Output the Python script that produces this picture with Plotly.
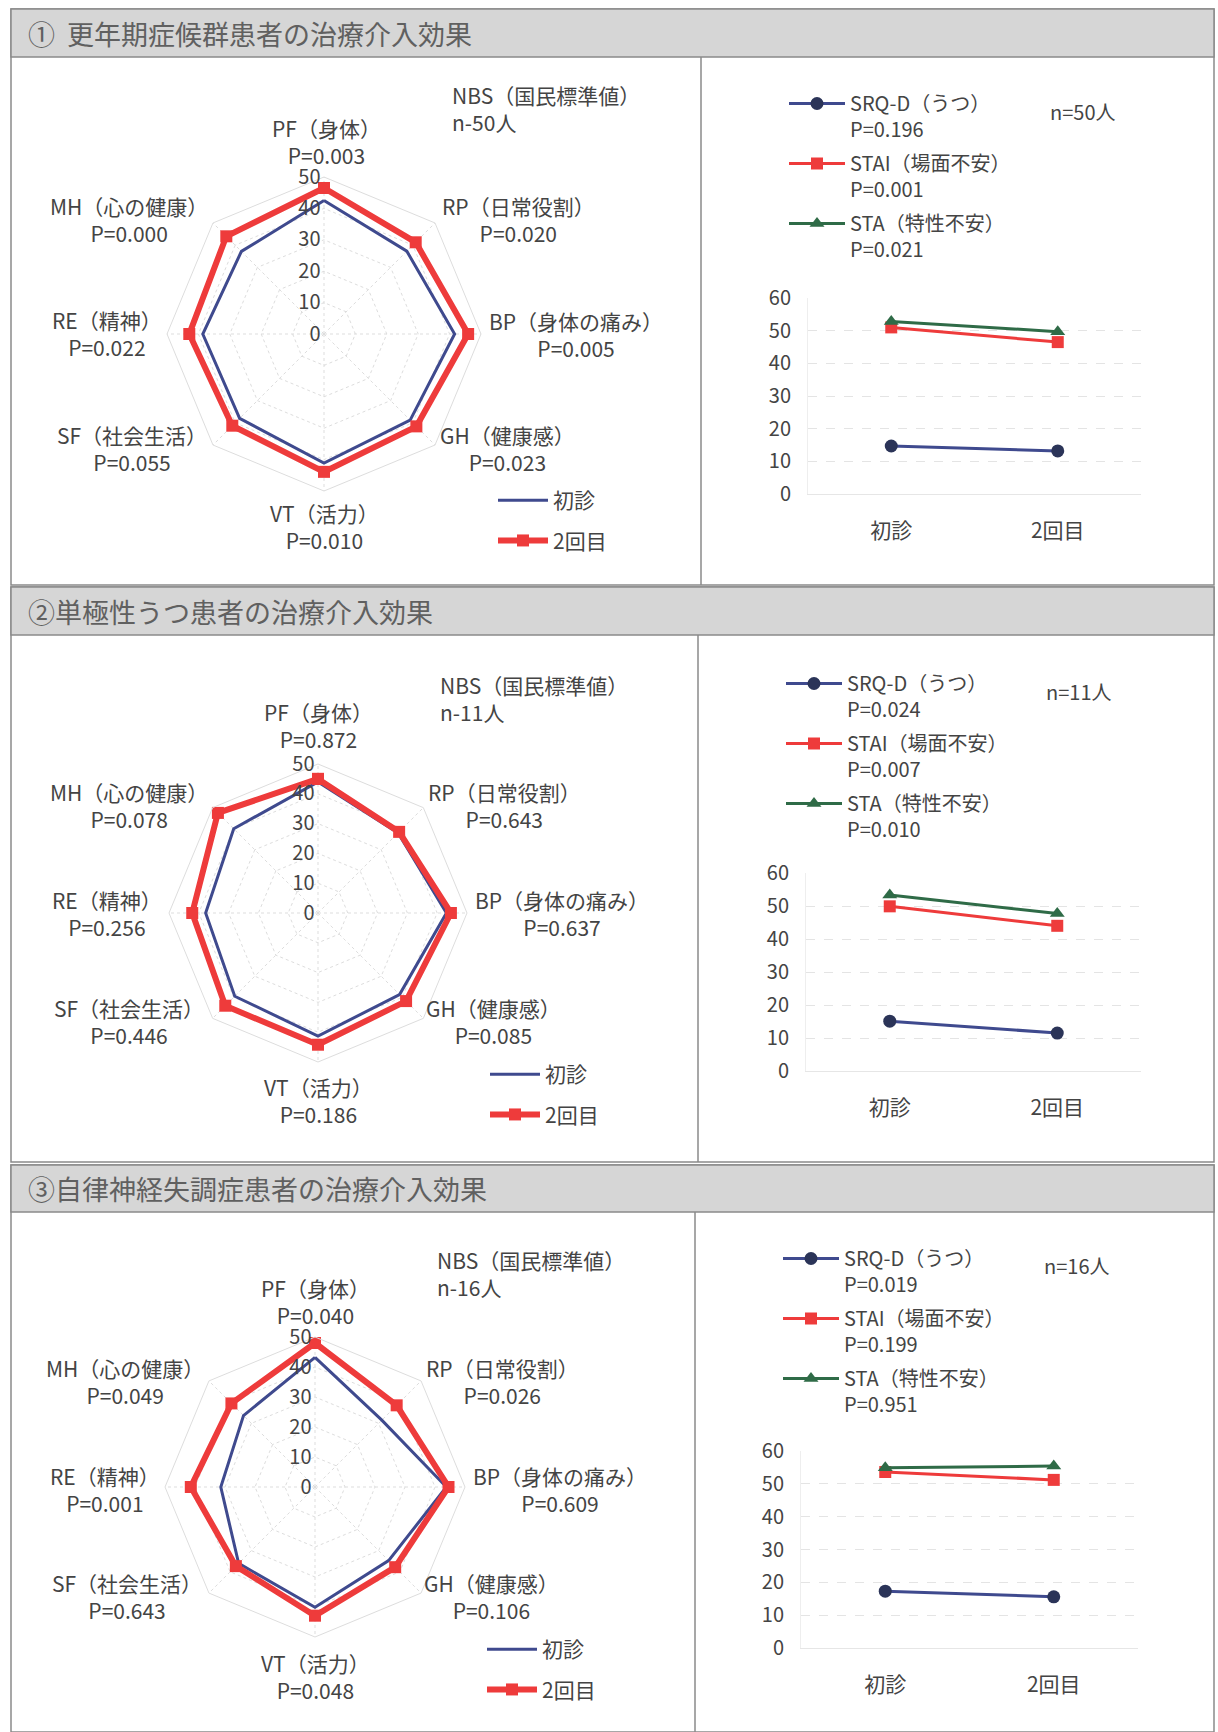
import plotly.graph_objects as go

W, H = 1218, 1732
FONT = "Noto Sans CJK JP"

# ---------------- data ----------------
radar_categories = ["PF（身体）", "RP（日常役割）", "BP（身体の痛み）", "GH（健康感）",
                    "VT（活力）", "SF（社会生活）", "RE（精神）", "MH（心の健康）"]
radar_series = ["初診", "2回目"]

p1_first = [42.5, 37.3, 41.6, 38.8, 41.1, 38.0, 38.6, 37.2]
p1_second = [46.5, 41.3, 45.9, 41.6, 43.9, 41.3, 42.9, 44.0]
p1_pvalues = ["0.003", "0.020", "0.005", "0.023", "0.010", "0.055", "0.022", "0.000"]

p2_first = [44.0, 38.0, 43.1, 38.7, 41.3, 39.5, 37.7, 40.0]
p2_second = [45.0, 38.5, 44.6, 41.8, 44.2, 44.0, 42.2, 47.5]
p2_pvalues = ["0.872", "0.643", "0.637", "0.085", "0.186", "0.446", "0.256", "0.078"]

p3_first = [43.2, 31.5, 43.8, 34.7, 40.1, 36.0, 31.4, 33.7]
p3_second = [48.0, 38.5, 44.5, 37.8, 42.9, 37.3, 41.4, 39.4]
p3_pvalues = ["0.040", "0.026", "0.609", "0.106", "0.048", "0.643", "0.001", "0.049"]

visits = ["初診", "2回目"]
scale_names = ["SRQ-D（うつ）", "STAI（場面不安）", "STA（特性不安）"]

p1_srq = [14.7, 13.2]
p1_stai = [51.0, 46.5]
p1_sta = [52.8, 49.7]
p1_scale_p = ["0.196", "0.001", "0.021"]

p2_srq = [15.1, 11.5]
p2_stai = [49.9, 44.0]
p2_sta = [53.3, 47.7]
p2_scale_p = ["0.024", "0.007", "0.010"]

p3_srq = [17.3, 15.6]
p3_stai = [53.6, 51.2]
p3_sta = [54.9, 55.4]
p3_scale_p = ["0.019", "0.199", "0.951"]

panel_titles = ["①  更年期症候群患者の治療介入効果",
                "②単極性うつ患者の治療介入効果",
                "③自律神経失調症患者の治療介入効果"]
group_sizes = [50, 11, 16]
radar_yticks = [0, 10, 20, 30, 40, 50]
line_yticks = [0, 10, 20, 30, 40, 50, 60]

# ---------------- styling / layout constants ----------------
BLUE = "#3f4a8e"
RED = "#ee3b3b"
NAVY = "#2b3458"
GREEN = "#2f6b47"
TXT = "#444444"


def px(x):
    return x / W


def py(y):
    return 1 - y / H


fig = go.Figure()

panels = [
    dict(top=9, band=57, bottom=585, div=701,
         radar=dict(cx=324, cy=334, r=157),
         lab=[(326, 141), (518, 219), (576, 335), (507, 449), (324, 527), (132, 449), (107, 333), (129, 219)],
         nbs=(450, 109), rleg=(493, 480),
         line=dict(x0=808, x1=1141, y0=494, y1=298), lleg=(784, 84), nn=(1083, 112),
         first=p1_first, second=p1_second, pv=p1_pvalues,
         srq=p1_srq, stai=p1_stai, sta=p1_sta, sp=p1_scale_p),
    dict(top=587, band=635, bottom=1162, div=698,
         radar=dict(cx=318, cy=913, r=149),
         lab=[(318, 726), (504, 805), (562, 913), (493, 1021), (318, 1100), (129, 1021), (107, 913), (129, 805)],
         nbs=(438, 698), rleg=(485, 1054),
         line=dict(x0=806, x1=1141, y0=1071, y1=873), lleg=(781, 664), nn=(1079, 691),
         first=p2_first, second=p2_second, pv=p2_pvalues,
         srq=p2_srq, stai=p2_stai, sta=p2_sta, sp=p2_scale_p),
    dict(top=1165, band=1212, bottom=1732, div=695,
         radar=dict(cx=315, cy=1487, r=150),
         lab=[(315, 1301), (502, 1381), (560, 1489), (491, 1596), (315, 1676), (127, 1596), (105, 1489), (125, 1381)],
         nbs=(435, 1273), rleg=(482, 1629),
         line=dict(x0=801, x1=1138, y0=1648, y1=1451), lleg=(778, 1239), nn=(1077, 1265),
         first=p3_first, second=p3_second, pv=p3_pvalues,
         srq=p3_srq, stai=p3_stai, sta=p3_sta, sp=p3_scale_p),
]

shapes = []
annotations = []
layout_extra = {}

for i, P in enumerate(panels):
    k = i + 1
    # frame, title band, divider
    shapes.append(dict(type="rect", xref="paper", yref="paper",
                       x0=px(11), x1=px(1214), y0=py(P["bottom"]), y1=py(P["top"]),
                       line=dict(color="#8a8a8a", width=1.5), fillcolor="white", layer="below"))
    shapes.append(dict(type="rect", xref="paper", yref="paper",
                       x0=px(11), x1=px(1214), y0=py(P["band"]), y1=py(P["top"]),
                       line=dict(color="#8a8a8a", width=1.5), fillcolor="#d6d6d6", layer="below"))
    shapes.append(dict(type="line", xref="paper", yref="paper",
                       x0=px(P["div"]), x1=px(P["div"]), y0=py(P["bottom"]), y1=py(P["band"]),
                       line=dict(color="#8a8a8a", width=1.5), layer="below"))
    annotations.append(dict(text=panel_titles[i], xref="paper", yref="paper",
                            x=px(26), y=py((P["top"] + P["band"]) / 2), xanchor="left", yanchor="middle",
                            showarrow=False, font=dict(family=FONT, size=27, color="#606060")))

    # ---- radar ----
    R = P["radar"]
    pid = "polar" if k == 1 else f"polar{k}"
    lname = "legend" if k == 1 else f"legend{2 * k - 1}"
    theta = radar_categories + radar_categories[:1]
    fig.add_trace(go.Scatterpolar(
        r=P["first"] + P["first"][:1], theta=theta, mode="lines", name=radar_series[0],
        line=dict(color=BLUE, width=3), subplot=pid, legend=lname, legendgroup=f"a{k}"))
    fig.add_trace(go.Scatterpolar(
        r=P["second"] + P["second"][:1], theta=theta, mode="lines+markers", name=radar_series[1],
        line=dict(color=RED, width=6), marker=dict(symbol="square", size=12, color=RED),
        subplot=pid, legend=lname, legendgroup=f"b{k}"))
    layout_extra[pid] = dict(
        domain=dict(x=[px(R["cx"] - R["r"]), px(R["cx"] + R["r"])],
                    y=[py(R["cy"] + R["r"]), py(R["cy"] - R["r"])]),
        bgcolor="rgba(0,0,0,0)",
        gridshape="linear",
        radialaxis=dict(range=[0, 50], tickvals=radar_yticks, angle=90, tickangle=90,
                        side="counterclockwise", showline=False, ticks="",
                        gridcolor="#dddddd", griddash="dot",
                        tickfont=dict(family=FONT, size=20, color=TXT)),
        angularaxis=dict(categoryarray=radar_categories, rotation=90, direction="clockwise",
                         showticklabels=False, ticks="", gridcolor="#dddddd", griddash="dot",
                         linecolor="#dddddd", showline=True),
    )
    for j, (lx, ly) in enumerate(P["lab"]):
        annotations.append(dict(text=f"{radar_categories[j]}<br>P={P['pv'][j]}", xref="paper", yref="paper",
                                x=px(lx), y=py(ly), xanchor="center", yanchor="middle", align="center",
                                showarrow=False, font=dict(family=FONT, size=21, color=TXT)))
    annotations.append(dict(text=f"NBS（国民標準値）<br>n-{group_sizes[i]}人", xref="paper", yref="paper",
                            x=px(P["nbs"][0]), y=py(P["nbs"][1]), xanchor="left", yanchor="middle",
                            align="left", showarrow=False, font=dict(family=FONT, size=21, color=TXT)))
    layout_extra[lname] = dict(x=px(P["rleg"][0]), y=py(P["rleg"][1]), xanchor="left", yanchor="top",
                               bgcolor="rgba(0,0,0,0)", tracegroupgap=10, itemwidth=50,
                               font=dict(family=FONT, size=21, color=TXT))

    # ---- line chart ----
    L = P["line"]
    xa = "xaxis" if k == 1 else f"xaxis{k}"
    ya = "yaxis" if k == 1 else f"yaxis{k}"
    xr = "x" if k == 1 else f"x{k}"
    yr = "y" if k == 1 else f"y{k}"
    lg = f"legend{2 * k}"
    series = [(P["srq"], BLUE, NAVY, "circle", 13), (P["stai"], RED, RED, "square", 12),
              (P["sta"], GREEN, GREEN, "triangle-up", 13)]
    for s, (vals, lc, mc, sym, ms) in enumerate(series):
        fig.add_trace(go.Scatter(
            x=visits, y=vals, mode="lines+markers", xaxis=xr, yaxis=yr,
            name=f"{scale_names[s]}<br>P={P['sp'][s]}",
            line=dict(color=lc, width=3), marker=dict(symbol=sym, size=ms, color=mc),
            legend=lg, legendgroup=f"l{k}{s}"))
    layout_extra[xa] = dict(domain=[px(L["x0"]), px(L["x1"])], anchor=yr, type="category",
                            range=[-0.5, 1.5], showgrid=False, showline=True, linecolor="#e6e6e6",
                            ticks="", ticklabelstandoff=18, automargin=False,
                            tickfont=dict(family=FONT, size=21, color=TXT))
    layout_extra[ya] = dict(domain=[py(L["y0"]), py(L["y1"])], anchor=xr, range=[0, 60],
                            tickvals=line_yticks, showgrid=True, gridcolor="#e4e4e4", griddash="dash",
                            showline=True, linecolor="#eeeeee", zeroline=False, ticks="",
                            ticklabelstandoff=12, automargin=False,
                            tickfont=dict(family=FONT, size=20, color=TXT))
    layout_extra[lg] = dict(x=px(P["lleg"][0]), y=py(P["lleg"][1]), xanchor="left", yanchor="top",
                            valign="top", bgcolor="rgba(0,0,0,0)", tracegroupgap=5, itemwidth=56,
                            font=dict(family=FONT, size=20, color=TXT))
    annotations.append(dict(text=f"n={group_sizes[i]}人", xref="paper", yref="paper",
                            x=px(P["nn"][0]), y=py(P["nn"][1]), xanchor="center", yanchor="middle",
                            showarrow=False, font=dict(family=FONT, size=20, color=TXT)))

fig.update_layout(
    width=W, height=H, autosize=False,
    margin=dict(l=0, r=0, t=0, b=0, pad=0, autoexpand=False),
    paper_bgcolor="white", plot_bgcolor="white",
    showlegend=True,
    shapes=shapes, annotations=annotations,
    font=dict(family=FONT, color=TXT),
    **layout_extra,
)

post = ("var gd=document.getElementById('{plot_id}');"
        "document.documentElement.style.margin='0';document.body.style.margin='0';"
        "document.documentElement.style.overflow='hidden';document.body.style.overflow='hidden';"
        "gd.style.position='fixed';gd.style.left='0px';gd.style.top='0px';")

fig.write_html("out.html", post_script=post, config={"displayModeBar": False})
